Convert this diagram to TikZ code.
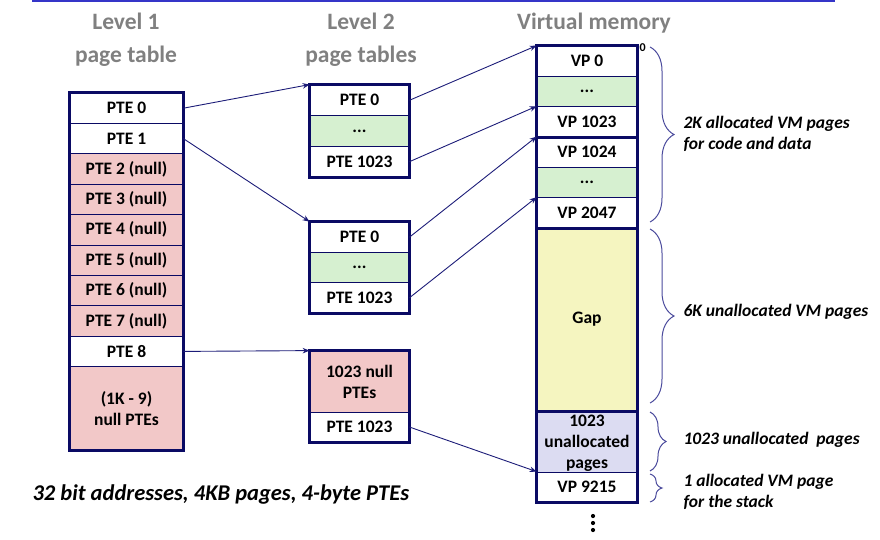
\documentclass[tikz,border=0pt]{standalone}
\usepackage{fontspec}
\setmainfont{Carlito}
\usetikzlibrary{arrows.meta,decorations.pathreplacing}
\definecolor{navy}{HTML}{0A0A64}
\definecolor{arrowc}{HTML}{1C1C78}
\definecolor{pinkc}{HTML}{F2C8C8}
\definecolor{greenc}{HTML}{D6F0D0}
\definecolor{yellowc}{HTML}{F5F5C0}
\definecolor{lavc}{HTML}{DCDCF2}
\definecolor{titlec}{HTML}{808080}
\definecolor{bracec}{HTML}{4A4A9C}
\definecolor{topline}{HTML}{3535C8}
\begin{document}
\begin{tikzpicture}[x=1pt,y=-1pt,
  cell/.style={draw=navy, line width=0.8pt, fill=white, inner sep=0pt, align=center,
    font=\fontsize{17.5}{21}\selectfont\bfseries},
  lonecell/.style={cell, minimum width=113pt},
  ltwocell/.style={cell, minimum width=99pt},
  vmcell/.style={cell, minimum width=100pt},
  outer/.style={draw=navy, line width=3pt},
  thickline/.style={draw=navy, line width=3pt},
  title/.style={font=\fontsize{23.5}{33}\selectfont\bfseries, text=titlec, align=center},
  conn/.style={draw=arrowc, line width=0.9pt, -{Stealth[length=7pt,width=5.5pt]}},
  bracedec/.style={draw=bracec, line width=1pt, decorate, decoration={brace, amplitude=24pt}},
  note/.style={font=\fontsize{17.5}{21}\selectfont\bfseries\itshape, anchor=west, align=left},
  dot/.style={fill=black}
]
\useasboundingbox (0,0) rectangle (880,539);
\draw[topline, line width=2pt] (32,1) -- (835,1);

% titles
\node[title] (t1) at (126,40) {Level 1\\page table};
\node[title] (t2) at (361,40) {Level 2\\page tables};
\node[title] (t3) at (594,23) {Virtual memory};

% Level 1 table
\node[lonecell, minimum height=30.4pt] (a0) at (126.5,108.2) {PTE 0};
\node[lonecell, minimum height=30.4pt] (a1) at (126.5,138.6) {PTE 1};
\node[lonecell, minimum height=30.4pt, fill=pinkc] (a2) at (126.5,169.0) {PTE 2 (null)};
\node[lonecell, minimum height=30.4pt, fill=pinkc] (a3) at (126.5,199.4) {PTE 3 (null)};
\node[lonecell, minimum height=30.4pt, fill=pinkc] (a4) at (126.5,229.8) {PTE 4 (null)};
\node[lonecell, minimum height=30.4pt, fill=pinkc] (a5) at (126.5,260.2) {PTE 5 (null)};
\node[lonecell, minimum height=30.4pt, fill=pinkc] (a6) at (126.5,290.6) {PTE 6 (null)};
\node[lonecell, minimum height=30.4pt, fill=pinkc] (a7) at (126.5,321.0) {PTE 7 (null)};
\node[lonecell, minimum height=30.4pt] (a8) at (126.5,351.4) {PTE 8};
\node[lonecell, minimum height=83.4pt, fill=pinkc] (a9) at (126.5,408.3) {(1K - 9)\\null PTEs};
\draw[outer] (a0.north west) rectangle (a9.south east);

% Level 2 tables
\node[ltwocell, minimum height=30.67pt] (b0) at (359.5,100.3) {PTE 0};
\node[ltwocell, minimum height=30.67pt, fill=greenc] (b1) at (359.5,131.0) {...};
\node[ltwocell, minimum height=30.67pt] (b2) at (359.5,161.7) {PTE 1023};
\draw[outer] (b0.north west) rectangle (b2.south east);

\node[ltwocell, minimum height=30.33pt] (c0) at (359.5,237.2) {PTE 0};
\node[ltwocell, minimum height=30.33pt, fill=greenc] (c1) at (359.5,267.5) {...};
\node[ltwocell, minimum height=30.33pt] (c2) at (359.5,297.8) {PTE 1023};
\draw[outer] (c0.north west) rectangle (c2.south east);

\node[ltwocell, minimum height=61pt, fill=pinkc] (d0) at (359.5,381.5) {1023 null\\PTEs};
\node[ltwocell, minimum height=30pt] (d1) at (359.5,427) {PTE 1023};
\draw[outer] (d0.north west) rectangle (d1.south east);

% Virtual memory
\node[vmcell, minimum height=30.33pt] (v0) at (587,61.2) {VP 0};
\node[vmcell, minimum height=30.33pt, fill=greenc] (v1) at (587,91.5) {...};
\node[vmcell, minimum height=30.33pt] (v2) at (587,121.8) {VP 1023};
\node[vmcell, minimum height=30.33pt] (v3) at (587,152.2) {VP 1024};
\node[vmcell, minimum height=30.33pt, fill=greenc] (v4) at (587,182.5) {...};
\node[vmcell, minimum height=30.33pt] (v5) at (587,212.8) {VP 2047};
\node[vmcell, minimum height=183pt, fill=yellowc] (v6) at (587,319.5) {Gap};
\node[vmcell, minimum height=61pt, fill=lavc] (v7) at (587,441.5) {};
\node[align=center, inner sep=0pt, font=\fontsize{17.5}{21}\selectfont\bfseries] (v7t) at (587,443.5) {1023\\unallocated\\pages};
\node[vmcell, minimum height=30pt] (v8) at (587,487) {VP 9215};
\draw[outer] (v0.north west) rectangle (v8.south east);
\draw[thickline] (v2.south west) -- (v2.south east);
\draw[thickline] (v5.south west) -- (v5.south east);
\draw[thickline] (v6.south west) -- (v6.south east);

\node[font=\fontsize{12}{12}\selectfont\bfseries, anchor=south west, inner sep=0pt] (zero) at (639.5,52) {0};

% vertical dots
\coordinate (dc) at (593,523);
\fill[dot] ([yshift=-7pt]dc) circle (2.1pt);
\fill[dot] (dc) circle (2.1pt);
\fill[dot] ([yshift=7pt]dc) circle (2.1pt);

% connectors
\draw[conn] (a0.east) -- (b0.north west);
\draw[conn] (a1.east) -- (c0.north west);
\draw[conn] (a8.east) -- (d0.north west);
\draw[conn] (b0.east) -- (v0.north west);
\draw[conn] (b2.east) -- (v2.north west);
\draw[conn] (c0.east) -- (v3.north west);
\draw[conn] (c2.east) -- (v5.north west);
\draw[conn] (d1.east) -- (v8.north west);

% braces
\coordinate (br1a) at (650,47);  \coordinate (br1b) at (650,222);
\coordinate (br2a) at (650,229); \coordinate (br2b) at (650,403);
\coordinate (br3a) at (650,412); \coordinate (br3b) at (650,471);
\coordinate (br4a) at (650,474); \coordinate (br4b) at (650,502);
\draw[bracedec] (br1a) -- (br1b);
\draw[bracedec] (br2a) -- (br2b);
\draw[bracedec, decoration={brace, amplitude=16pt}] (br3a) -- (br3b);
\draw[bracedec, decoration={brace, amplitude=12pt}] (br4a) -- (br4b);

\node[note] (n1) at (680,134) {2K allocated VM pages\\for code and data};
\node[note] (n2) at (680,312) {6K unallocated VM pages};
\node[note] (n3) at (680,440) {1023 unallocated\ \ pages};
\node[note] (n4) at (680,492) {1 allocated VM page\\for the stack};

\node[font=\fontsize{22.5}{24}\selectfont\bfseries\itshape, anchor=west] (foot) at (29,494) {32 bit addresses, 4KB pages, 4-byte PTEs};
\end{tikzpicture}
\end{document}
